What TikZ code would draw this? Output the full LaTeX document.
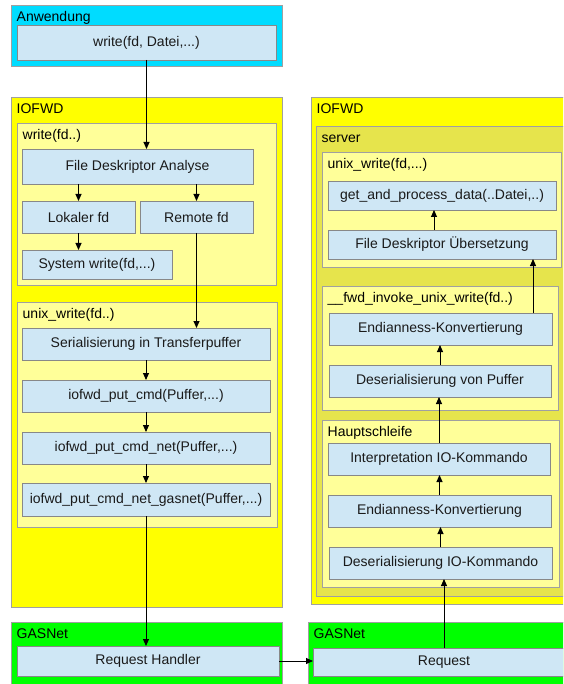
\documentclass[tikz,border=0pt]{standalone}
\usepackage{fontspec}
\setmainfont{Liberation Sans}
\usetikzlibrary{arrows.meta}
\definecolor{cyanbg}{RGB}{0,220,255}
\definecolor{yelbg}{RGB}{255,255,0}
\definecolor{lyelbg}{RGB}{255,255,153}
\definecolor{srvbg}{RGB}{230,228,76}
\definecolor{boxbg}{RGB}{207,231,245}
\definecolor{grnbg}{RGB}{0,255,0}
\definecolor{outline}{RGB}{160,160,160}
\definecolor{boxline}{RGB}{136,136,136}
\definecolor{txt}{RGB}{26,26,26}
\tikzset{
  cont/.style={draw=outline, line width=0.9pt, anchor=north west, inner sep=0pt, outer sep=0pt},
  fn/.style={draw=boxline, line width=0.9pt, fill=boxbg, anchor=north west, inner sep=0pt, outer sep=0pt,
     font=\fontsize{14}{16}\selectfont, text=txt, align=center},
  lbl/.style={anchor=base west, inner sep=0pt, font=\fontsize{14}{16}\selectfont, text=black},
  arr/.style={draw=black, line width=0.9pt, -{Triangle[length=7pt,width=6pt]}}
}
\newcommand{\cbox}[7]{% name, color, x1, y1, w, h, label
  \node[cont, fill=#2, minimum width=#5pt, minimum height=#6pt] (#1) at (#3,#4) {};
  \node[lbl] (#1-l) at ([xshift=5.5pt,yshift=-16.5pt]#1.north west) {#7};
}
\begin{document}
\begin{tikzpicture}[x=1pt,y=-1pt]
\useasboundingbox (0,0) rectangle (563,684);
\clip (0,0) rectangle (563,684);
% containers left
\cbox{anw}{cyanbg}{11}{5}{271}{61}{Anwendung}
\cbox{iofL}{yelbg}{11}{97}{271}{510}{IOFWD}
\cbox{wfd}{lyelbg}{17}{123}{259}{162}{write(fd..)}
\cbox{uw}{lyelbg}{17}{302}{260}{225}{unix\_write(fd..)}
\cbox{gasL}{grnbg}{11}{622}{271}{80}{GASNet}
% containers right
\cbox{iofR}{yelbg}{311}{97}{270}{507}{IOFWD}
\cbox{srv}{srvbg}{316}{126}{260}{470}{server}
\cbox{uwR}{lyelbg}{322}{152}{239}{115}{unix\_write(fd,...)}
\cbox{fwd}{lyelbg}{322}{286}{236}{124}{\_\_fwd\_invoke\_unix\_write(fd..)}
\cbox{hs}{lyelbg}{322}{420}{237}{167}{Hauptschleife}
\cbox{gasR}{grnbg}{308}{622}{273}{80}{GASNet}
% function boxes left
\node[fn, minimum width=259pt, minimum height=35pt] (w) at (17,25) {write(fd, Datei,...)};
\node[fn, minimum width=231pt, minimum height=35pt] (fda) at (22,149) {File Deskriptor Analyse};
\node[fn, minimum width=113pt, minimum height=32pt] (lok) at (22,201) {Lokaler fd};
\node[fn, minimum width=113pt, minimum height=32pt] (rem) at (140,201) {Remote fd};
\node[fn, minimum width=150pt, minimum height=29pt] (sys) at (22,250) {System write(fd,...)};
\node[fn, minimum width=248pt, minimum height=32pt] (ser) at (22,328) {Serialisierung in Transferpuffer};
\node[fn, minimum width=248pt, minimum height=32pt] (pc) at (22,380) {iofwd\_put\_cmd(Puffer,...)};
\node[fn, minimum width=248pt, minimum height=32pt] (pcn) at (22,432) {iofwd\_put\_cmd\_net(Puffer,...)};
\node[fn, minimum width=248pt, minimum height=33pt] (pcng) at (22,483) {iofwd\_put\_cmd\_net\_gasnet(Puffer,...)};
\node[fn, minimum width=262pt, minimum height=30pt] (rh) at (17,646) {Request Handler};
% function boxes right
\node[fn, minimum width=262pt, minimum height=28pt] (req) at (313,648) {Request};
\node[fn, minimum width=228pt, minimum height=29pt] (gpd) at (328,181) {get\_and\_process\_data(..Datei,..)};
\node[fn, minimum width=228pt, minimum height=29pt] (fdu) at (328,230) {File Deskriptor Übersetzung};
\node[fn, minimum width=223pt, minimum height=32pt] (end1) at (329,313) {Endianness-Konvertierung};
\node[fn, minimum width=222pt, minimum height=32pt] (dvp) at (329,365) {Deserialisierung von Puffer};
\node[fn, minimum width=222pt, minimum height=32pt] (interp) at (328,443) {Interpretation IO-Kommando};
\node[fn, minimum width=223pt, minimum height=32pt] (end2) at (328,495) {Endianness-Konvertierung};
\node[fn, minimum width=223pt, minimum height=32pt] (dio) at (329,547) {Deserialisierung IO-Kommando};
% connectors left
\draw[arr] (w.south) -- (w.south |- fda.north);
\draw[arr] (lok.north |- fda.south) -- (lok.north);
\draw[arr] (rem.north |- fda.south) -- (rem.north);
\draw[arr] (lok.south) -- (lok.south |- sys.north);
\draw[arr] (rem.south) -- (rem.south |- ser.north);
\draw[arr] (ser.south) -- (ser.south |- pc.north);
\draw[arr] (pc.south) -- (pc.south |- pcn.north);
\draw[arr] (pcn.south) -- (pcn.south |- pcng.north);
\draw[arr] (pcng.south) -- (pcng.south |- rh.north);
\draw[arr] (rh.east) -- (rh.east -| req.west);
% connectors right
\draw[arr] (req.north) -- (req.north |- dio.south);
\draw[arr] (dio.north) -- (dio.north |- end2.south);
\draw[arr] (end2.north) -- (end2.north |- interp.south);
\draw[arr] (interp.north) -- (interp.north |- dvp.south);
\draw[arr] (dvp.north) -- (dvp.north |- end1.south);
\draw[arr] ([xshift=-19pt]end1.north east) -- ([xshift=-19pt]end1.north east |- fdu.south);
\draw[arr] ([xshift=-8pt]fdu.north) -- ([xshift=-8pt]fdu.north |- gpd.south);
\end{tikzpicture}
\end{document}
